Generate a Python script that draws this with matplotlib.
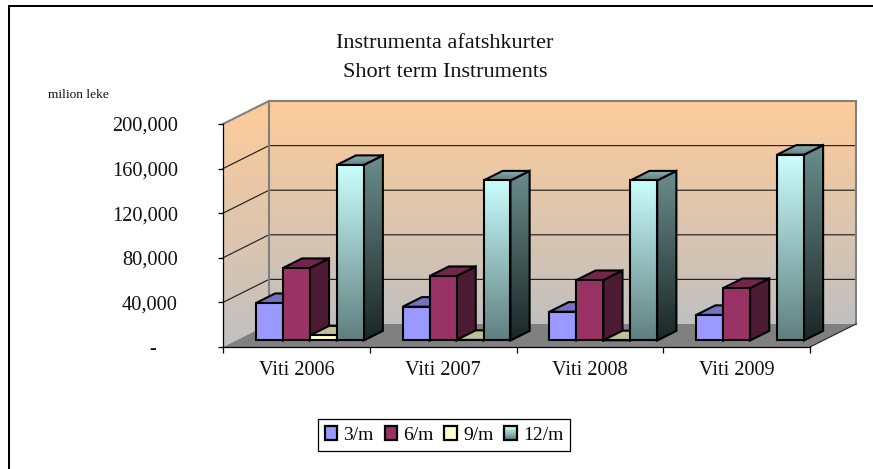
import numpy as np
import matplotlib
matplotlib.use("Agg")
import matplotlib.pyplot as plt
from matplotlib.colors import LinearSegmentedColormap
from matplotlib.legend_handler import HandlerBase
from matplotlib.lines import Line2D
from matplotlib.patches import Patch, Polygon, Rectangle

categories = ["Viti 2006", "Viti 2007", "Viti 2008", "Viti 2009"]
series_names = ["3/m", "6/m", "9/m", "12/m"]
values_3m = [33600, 30300, 25800, 22900]
values_6m = [65000, 57800, 54200, 47000]
values_9m = [4500, 500, 200, 0]
values_12m = [157400, 143500, 143500, 166600]
y_ticks = [0, 40000, 80000, 120000, 160000, 200000]
y_labels = ["-    ", "40,000", "80,000", "120,000", "160,000", "200,000"]

W, H = 873, 469
plt.rcParams["font.family"] = ["Liberation Serif", "DejaVu Serif"]
fig = plt.figure(figsize=(W / 100, H / 100), dpi=100, facecolor="white")

# axes: front-left plot edge x 223..810, y 347..124 (pixels from top)
ax = fig.add_axes([223 / W, 1 - 347 / H, 587 / W, 223 / H])
ax.patch.set_visible(False)
XMAX, YMAX = len(categories), y_ticks[-1]
PX_X, PX_Y = 587 / XMAX, 223 / YMAX
DX, DY = 46 / PX_X, 23 / PX_Y


def proj(x, y, z):
    """Oblique projection: depth z in 0..1 shifts a point right and up."""
    return (x + z * DX, y + z * DY)


def grad_poly(pts, top_col, bot_col, y0=None, y1=None, zorder=1.0):
    """Polygon with a vertical gradient."""
    pts = np.array(pts)
    ys = pts[:, 1]
    y0 = ys.min() if y0 is None else y0
    y1 = ys.max() if y1 is None else y1
    cmap = LinearSegmentedColormap.from_list("g", [bot_col, top_col])
    img = ax.imshow(np.linspace(1, 0, 256)[:, None],
                    extent=[pts[:, 0].min(), pts[:, 0].max(), y0, y1],
                    cmap=cmap, vmin=0, vmax=1, aspect="auto", zorder=zorder,
                    origin="upper", interpolation="bilinear")
    clip = Polygon(pts, closed=True, transform=ax.transData, fc="none", ec="none")
    ax.add_patch(clip)
    img.set_clip_box(fig.bbox)
    img.set_clip_path(clip)
    return img


PEACH, WALLGREY = "#FFCC99", "#C0C0C0"

# walls and floor
back = [proj(0, 0, 1), proj(XMAX, 0, 1), proj(XMAX, YMAX, 1), proj(0, YMAX, 1)]
left = [proj(0, 0, 0), proj(0, 0, 1), proj(0, YMAX, 1), proj(0, YMAX, 0)]
floor = [proj(0, 0, 0), proj(XMAX, 0, 0), proj(XMAX, 0, 1), proj(0, 0, 1)]
grad_poly(back, PEACH, WALLGREY, zorder=1)
grad_poly(left, PEACH, WALLGREY, zorder=1)
ax.add_patch(Polygon(floor, closed=True, fc="#808080", ec="none", zorder=1.2, clip_on=False))

# gridlines on both walls
for v in y_ticks[1:-1]:
    a, b, c = proj(0, v, 0), proj(0, v, 1), proj(XMAX, v, 1)
    ax.plot([a[0], b[0], c[0]], [a[1], b[1], c[1]], color="#222222", lw=0.85,
            zorder=1.4, clip_on=False)

# wall edges
a, b, c, d, e = proj(0, YMAX, 0), proj(0, YMAX, 1), proj(XMAX, YMAX, 1), proj(XMAX, 0, 1), proj(0, 0, 1)
ax.plot([a[0], b[0], c[0], d[0]], [a[1], b[1], c[1], d[1]], color="#808080", lw=1.5,
        zorder=1.5, clip_on=False, solid_joinstyle="miter")
ax.plot([b[0], e[0]], [b[1], e[1]], color="#808080", lw=1.5, zorder=1.5, clip_on=False)
f = proj(XMAX, 0, 0)
ax.plot([f[0], d[0]], [f[1], d[1]], color="#222222", lw=0.8, zorder=1.5, clip_on=False)

# bars
GAP, BAR_W, Z0, Z1 = 0.136, 0.1835, 0.283, 0.70
solid_styles = [
    ("#9999FF", "#7373BF", "#4D4D80"),
    ("#993366", "#73264D", "#4D1A33"),
    ("#FFFFCC", "#BFBF99", "#808066"),
]
all_series = [values_3m, values_6m, values_9m, values_12m]
EDGE = dict(ec="black", lw=1.5, joinstyle="miter", clip_on=False)
z = 2.0
for i in range(len(categories)):
    for s, vals in enumerate(all_series):
        v = vals[i]
        if v <= 0:
            continue
        x0 = i + GAP + s * BAR_W
        x1 = x0 + BAR_W
        front = [proj(x0, 0, Z0), proj(x1, 0, Z0), proj(x1, v, Z0), proj(x0, v, Z0)]
        top = [proj(x0, v, Z0), proj(x1, v, Z0), proj(x1, v, Z1), proj(x0, v, Z1)]
        side = [proj(x1, 0, Z0), proj(x1, 0, Z1), proj(x1, v, Z1), proj(x1, v, Z0)]
        if s < 3:
            fc, tc, sc = solid_styles[s]
            ax.add_patch(Polygon(side, closed=True, fc=sc, zorder=z, **EDGE))
            ax.add_patch(Polygon(top, closed=True, fc=tc, zorder=z + .01, **EDGE))
            ax.add_patch(Polygon(front, closed=True, fc=fc, zorder=z + .02, **EDGE))
        else:
            grad_poly(side, "#6B8E8E", "#1A2626", zorder=z)
            ax.add_patch(Polygon(side, closed=True, fc="none", zorder=z + .005, **EDGE))
            grad_poly(top, "#8FB0B0", "#5F8080", zorder=z + .01)
            ax.add_patch(Polygon(top, closed=True, fc="none", zorder=z + .015, **EDGE))
            grad_poly(front, "#CCFFFF", "#5F7F7F", zorder=z + .02)
            ax.add_patch(Polygon(front, closed=True, fc="none", zorder=z + .025, **EDGE))
        z += 0.1

# axes, ticks, labels
ax.set_xlim(0, XMAX)
ax.set_ylim(0, YMAX)
for sp in ("top", "right"):
    ax.spines[sp].set_visible(False)
for sp in ("left", "bottom"):
    ax.spines[sp].set_color("black")
    ax.spines[sp].set_linewidth(0.9)
    ax.spines[sp].set_zorder(1.6)
ax.set_yticks(y_ticks, y_labels, fontsize=14.7, color="#111111")
ax.set_xticks(np.arange(XMAX + 1), [""] * (XMAX + 1))
ax.set_xticks(np.arange(XMAX) + 0.5, categories, minor=True, fontsize=14.6, color="#111111")
ax.tick_params(axis="y", length=3.6, width=0.9, pad=29)
ax.tick_params(axis="x", which="major", length=4, width=0.9)
ax.tick_params(axis="x", which="minor", length=0, pad=10)

# title and unit label
fig.text(445 / W, 1 - 58 / H, "Instrumenta afatshkurter\nShort term Instruments",
         ha="center", va="center", fontsize=16, linespacing=1.68, color="#111111")
fig.text(48 / W, 1 - 95 / H, "milion leke", ha="left", va="center", fontsize=9.6, color="#111111")


class GradHandler(HandlerBase):
    def create_artists(self, legend, orig, xd, yd, w, h, fs, trans):
        n = 16
        cmap = LinearSegmentedColormap.from_list("l", ["#CCFFFF", "#5F7F7F"])
        out = [Rectangle((-xd, -yd + h * (n - 1 - k) / n), w, h / n, fc=cmap(k / (n - 1)),
                         ec="none", transform=trans) for k in range(n)]
        out.append(Rectangle((-xd, -yd), w, h, fc="none", ec="black", lw=1.6, transform=trans))
        return out


handles = [Patch(fc=solid_styles[k][0], ec="black", lw=1.6) for k in range(3)] + [Patch(label="g")]
leg = fig.legend(handles, series_names, ncol=4, fontsize=14, loc="center",
                 bbox_to_anchor=(444 / W, 1 - 435 / H), frameon=True, fancybox=False,
                 edgecolor="black", framealpha=1, handlelength=0.66, handleheight=0.7,
                 handletextpad=0.3, columnspacing=0.56, borderpad=0.35, borderaxespad=0,
                 handler_map={handles[3]: GradHandler()})
leg.get_frame().set_linewidth(0.9)

# outer frame: only the top and left edges fall inside the picture
fig.add_artist(Line2D([8.8 / W, 8.8 / W, 1], [0, 1 - 5.8 / H, 1 - 5.8 / H],
                      transform=fig.transFigure, color="black", lw=1.45,
                      solid_joinstyle="miter"))

fig.savefig("out.png", dpi=100)
